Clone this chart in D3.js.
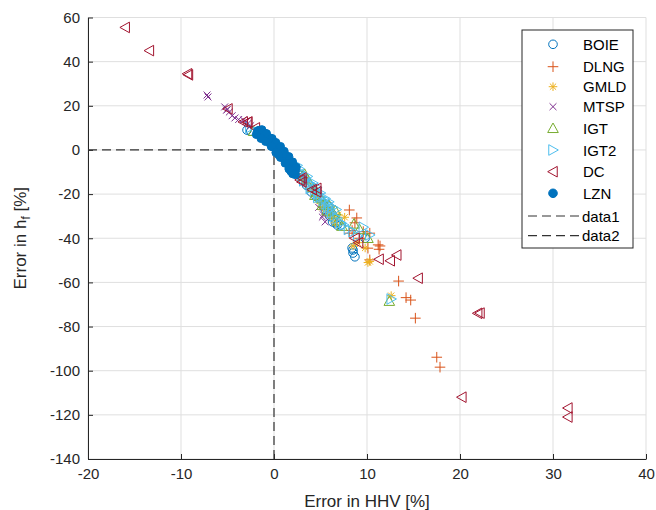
<!DOCTYPE html>
<html>
<head>
<meta charset="utf-8">
<script src="https://cdn.jsdelivr.net/npm/d3@7"></script>
<style>
  body { margin: 0; background: #fff; }
  svg { display: block; font-family: "Liberation Sans", Arial, sans-serif; }
</style>
</head>
<body>
<svg id="chart" width="656" height="510"></svg>
<script>
// Error pairs [HHV error %, h_f error %] for each correlation
const boie = [[-2.9,9],[-2.5,8.5],[6.3,-32.6],[6.8,-34],[6.6,-33],[8.7,-48.4],[8.5,-45.3],[8.4,-44.4],[8.5,-46.7],[7.2,-34],[5.5,-27],[4.5,-21],[3.5,-16],[2.6,-11],[9.8,-40],[6.0,-30],[5.9,-25.5],[4.0,-19]];
const dlng = [[8.1,-27.2],[8.9,-30.8],[8.7,-33],[8.1,-37.7],[9.2,-40],[10.3,-37.7],[11.2,-43],[11.3,-45],[10.1,-44.5],[10.3,-49.8],[13.4,-59.4],[14.2,-66.9],[14.7,-68],[15.2,-76.2],[17.5,-93.9],[17.85,-98.4],[9.6,-37],[11.4,-43.5],[8.4,-36.5],[4.2,-18],[3.2,-12.5],[6.1,-28]];
const gmld = [[3.0,-13],[3.5,-15],[4.0,-17.5],[4.7,-22.6],[5.0,-24],[5.3,-24],[5.6,-26],[6.0,-29],[6.3,-31],[7.6,-30.5],[8.5,-43.5],[9.8,-44.4],[10.1,-51],[10.3,-50.5],[12.6,-66],[4.4,-20],[5.8,-28],[6.6,-33],[9.0,-42],[5.2,-26],[6.9,-29.5]];
const mtsp = [[-7.2,24.9],[-7.1,24],[-5.3,19.5],[-5.0,18.5],[-4.8,17.2],[-4.5,15.5],[-4.2,14.5],[-3.8,13.8],[-3.3,13.6],[-3.0,12.8],[-2.8,12],[-5.1,18],[5.2,-30.4],[5.5,-32.6],[5.3,-29.4],[4.8,-26],[3.5,-15],[2.8,-11],[-2.5,11]];
const igt = [[2.5,-9],[3.1,-12],[3.6,-13.5],[4.2,-17],[4.6,-19],[5.1,-22],[5.4,-24],[5.9,-25],[6.1,-28],[6.4,-29],[6.9,-32],[7.3,-34.5],[8.6,-33.5],[9.2,-36],[10.1,-40],[12.4,-68.5],[4.9,-21],[5.7,-27.5],[3.9,-15.5],[-2.2,8.5],[4.4,-20.5],[5.2,-25],[6.6,-27.5],[3.3,-11]];
const igt2 = [[2.2,-8],[2.8,-10],[3.0,-11.5],[3.4,-13],[3.8,-15],[4.0,-16],[4.4,-18],[4.8,-20],[5.0,-21.5],[5.3,-23],[5.6,-24.5],[5.8,-26],[6.0,-27],[6.2,-28.5],[6.5,-30],[6.8,-31],[7.2,-33],[7.5,-34],[8.0,-36],[8.5,-37],[9.6,-35],[10.3,-38.5],[9.0,-39],[12.6,-67.5],[3.2,-14],[4.6,-17],[5.5,-22],[6.3,-26],[2.5,-7],[-2.6,10],[2.7,-8.5],[3.6,-12],[4.2,-15],[5.0,-19.5],[5.9,-23.5],[6.7,-27],[3.9,-17.5],[4.7,-21.5]];
const dc = [[-16,55.5],[-13.4,45],[-9.3,34.5],[-9.2,34],[-4.95,18.6],[-3.3,12.7],[-2.8,12.7],[-2.0,10],[-2.9,12.5],[3.0,-14.5],[2.8,-13.6],[3.0,-12.7],[4.1,-18],[4.6,-17.4],[4.6,-19],[8.7,-40],[9.1,-42],[11.3,-49.5],[12.5,-50.2],[13.2,-47.6],[15.5,-58.1],[21.9,-74],[22.15,-73.9],[20.2,-112],[31.6,-116.9],[31.6,-121]];
const lzn = [[-1.8,8.2],[-1.7,8.8],[-1.6,7.5],[-1.5,8.0],[-1.4,6.8],[-1.3,7.4],[-1.2,6.0],[-1.1,6.6],[-1.0,5.2],[-0.9,5.8],[-0.8,4.6],[-0.7,5.0],[-0.6,3.8],[-0.5,4.4],[-0.4,3.0],[-0.3,3.4],[-0.2,2.2],[-0.1,2.8],[0.0,1.2],[0.1,1.8],[0.2,0.4],[0.3,0.8],[0.4,-0.6],[0.5,0.0],[0.6,-1.6],[0.7,-1.0],[0.8,-2.6],[0.9,-2.0],[1.0,-3.6],[1.1,-3.0],[1.2,-4.6],[1.3,-4.0],[1.4,-5.8],[1.5,-5.0],[1.6,-6.8],[1.7,-6.0],[1.8,-8.0],[1.9,-7.2],[2.0,-9.2],[2.1,-8.4],[2.2,-10.4],[2.3,-9.6],[2.0,-10.8],[1.8,-9.6],[-1.5,9.0],[-1.2,8.0],[-0.9,6.8],[-0.6,5.6],[-0.3,4.4],[0.0,3.0],[0.3,2.0],[0.6,0.6],[0.9,-0.8],[1.2,-2.4],[1.5,-3.8],[1.8,-5.6],[2.1,-7.0],[-1.0,7.6],[-0.4,5.4],[0.4,1.6],[-1.3,9.2],[-0.8,7.4],[-0.2,5.2],[0.2,3.4],[0.7,1.6],[1.1,-0.6],[1.6,-3.0],[2.0,-5.4],[2.4,-7.8],[-1.9,7.0],[-1.4,5.2],[-0.9,3.8],[-0.3,1.6],[0.2,-1.2],[0.7,-3.4],[1.2,-6.0],[1.6,-8.6],[2.3,-11.2],[1.0,-1.8],[0.5,-2.2]];

// Reference lines: h_f = 0 for HHV < 0, HHV = 0 for h_f < 0
const data1 = [[-20,0],[0,0]];
const data2 = [[0,-140],[0,0]];

const xTicks = [-20,-10,0,10,20,30,40];
const yTicks = [-140,-120,-100,-80,-60,-40,-20,0,20,40,60];

const series = [
  {name:"BOIE", data:boie, color:"#0072BD", shape:"circle"},
  {name:"DLNG", data:dlng, color:"#D95319", shape:"plus"},
  {name:"GMLD", data:gmld, color:"#EDB120", shape:"star"},
  {name:"MTSP", data:mtsp, color:"#7E2F8E", shape:"cross"},
  {name:"IGT",  data:igt,  color:"#77AC30", shape:"triUp"},
  {name:"IGT2", data:igt2, color:"#4DBEEE", shape:"triRight"},
  {name:"DC",   data:dc,   color:"#A2142F", shape:"triLeft"},
  {name:"LZN",  data:lzn,  color:"#0072BD", shape:"dot"}
];

const svg = d3.select("#chart");
const x = d3.scaleLinear().domain([-20,40]).range([88,646]);
const y = d3.scaleLinear().domain([-140,60]).range([459,17.5]);
const FONT = "Liberation Sans, Arial, sans-serif";

// Grid
const grid = svg.append("g").attr("stroke","#dfdfdf").attr("stroke-width",1);
xTicks.forEach(t => grid.append("line").attr("x1",x(t)).attr("x2",x(t)).attr("y1",y(-140)).attr("y2",y(60)));
yTicks.forEach(t => grid.append("line").attr("y1",y(t)).attr("y2",y(t)).attr("x1",x(-20)).attr("x2",x(40)));

// Axes (ASCII hyphen for negatives)
const fmt = d => String(d);
const xAxis = svg.append("g").attr("transform",`translate(0,${y(-140)})`)
  .call(d3.axisBottom(x).tickValues(xTicks).tickFormat(fmt).tickSizeInner(-5).tickSizeOuter(0).tickPadding(9));
const yAxis = svg.append("g").attr("transform",`translate(${x(-20)},0)`)
  .call(d3.axisLeft(y).tickValues(yTicks).tickFormat(fmt).tickSizeInner(-5).tickSizeOuter(0).tickPadding(8));
[xAxis,yAxis].forEach(a => {
  a.select(".domain").attr("stroke","#262626").attr("stroke-width",1);
  a.selectAll(".tick line").attr("stroke","#262626");
  a.selectAll(".tick text").attr("fill","#262626").attr("font-size",15).attr("font-family",FONT);
});

// Marker drawing
function drawMarker(g, shape, cx, cy, color, r) {
  const s = {fill:"none", stroke:color, "stroke-width":1};
  let el;
  if (shape === "circle") {
    el = g.append("circle").attr("cx",cx).attr("cy",cy).attr("r",r);
  } else if (shape === "dot") {
    el = g.append("circle").attr("cx",cx).attr("cy",cy).attr("r",r);
    s.fill = color;
  } else if (shape === "plus") {
    el = g.append("path").attr("d",`M${cx-r-1},${cy}H${cx+r+1}M${cx},${cy-r-1}V${cy+r+1}`);
  } else if (shape === "cross") {
    const q = r*0.8;
    el = g.append("path").attr("d",`M${cx-q},${cy-q}L${cx+q},${cy+q}M${cx-q},${cy+q}L${cx+q},${cy-q}`);
  } else if (shape === "star") {
    const q = r, d = r*0.72;
    el = g.append("path").attr("d",`M${cx-q},${cy}H${cx+q}M${cx},${cy-q}V${cy+q}M${cx-d},${cy-d}L${cx+d},${cy+d}M${cx-d},${cy+d}L${cx+d},${cy-d}`);
  } else if (shape === "triUp") {
    const q = r+1;
    el = g.append("path").attr("d",`M${cx},${cy-q}L${cx+q},${cy+q*0.8}L${cx-q},${cy+q*0.8}Z`);
  } else if (shape === "triRight") {
    const q = r+1;
    el = g.append("path").attr("d",`M${cx+q},${cy}L${cx-q*0.8},${cy-q}L${cx-q*0.8},${cy+q}Z`);
  } else if (shape === "triLeft") {
    const q = r+1;
    el = g.append("path").attr("d",`M${cx-q},${cy}L${cx+q*0.8},${cy-q}L${cx+q*0.8},${cy+q}Z`);
  }
  Object.entries(s).forEach(([k,v]) => el.attr(k,v));
}

// Reference dashed lines
const line = d3.line().x(d => x(d[0])).y(d => y(d[1]));
[data1, data2].forEach(d => {
  svg.append("path").datum(d).attr("d",line).attr("fill","none")
    .attr("stroke","#333").attr("stroke-width",1.2).attr("stroke-dasharray","9,5");
});

// Scatter series
series.forEach(sr => {
  const g = svg.append("g");
  sr.data.forEach(p => drawMarker(g, sr.shape, x(p[0]), y(p[1]), sr.color, sr.shape === "dot" ? 4 : 4.3));
});

// Axis labels
svg.append("text").attr("x",(x(-20)+x(40))/2).attr("y",507).attr("text-anchor","middle")
  .attr("font-size",17).attr("font-family",FONT).attr("fill","#262626").text("Error in HHV [%]");
const yl = svg.append("text").attr("transform",`translate(26,${(y(-140)+y(60))/2}) rotate(-90)`)
  .attr("text-anchor","middle").attr("font-size",17).attr("font-family",FONT).attr("fill","#262626");
yl.append("tspan").text("Error in h");
yl.append("tspan").attr("font-size",12).attr("dy",4).text("f");
yl.append("tspan").attr("dy",-4).text(" [%]");

// Legend
const lg = svg.append("g");
lg.append("rect").attr("x",522).attr("y",30).attr("width",111).attr("height",218)
  .attr("fill","#fff").attr("stroke","#262626").attr("stroke-width",1);
const rowY = [44.3,66.7,86.7,106.7,128.3,150,171.7,193.3];
series.forEach((sr,i) => {
  drawMarker(lg, sr.shape, 553, rowY[i], sr.color, 4.3);
  lg.append("text").attr("x",583).attr("y",rowY[i]+5.5).attr("font-size",15).attr("font-family",FONT).attr("fill","#000").text(sr.name);
});
[["data1",216],["data2",235.7]].forEach(([nm,yy]) => {
  lg.append("line").attr("x1",528).attr("x2",580).attr("y1",yy).attr("y2",yy)
    .attr("stroke","#333").attr("stroke-width",1.2).attr("stroke-dasharray","9,5");
  lg.append("text").attr("x",582).attr("y",yy+5.5).attr("font-size",15).attr("font-family",FONT).attr("fill","#000").text(nm);
});
</script>
</body>
</html>
